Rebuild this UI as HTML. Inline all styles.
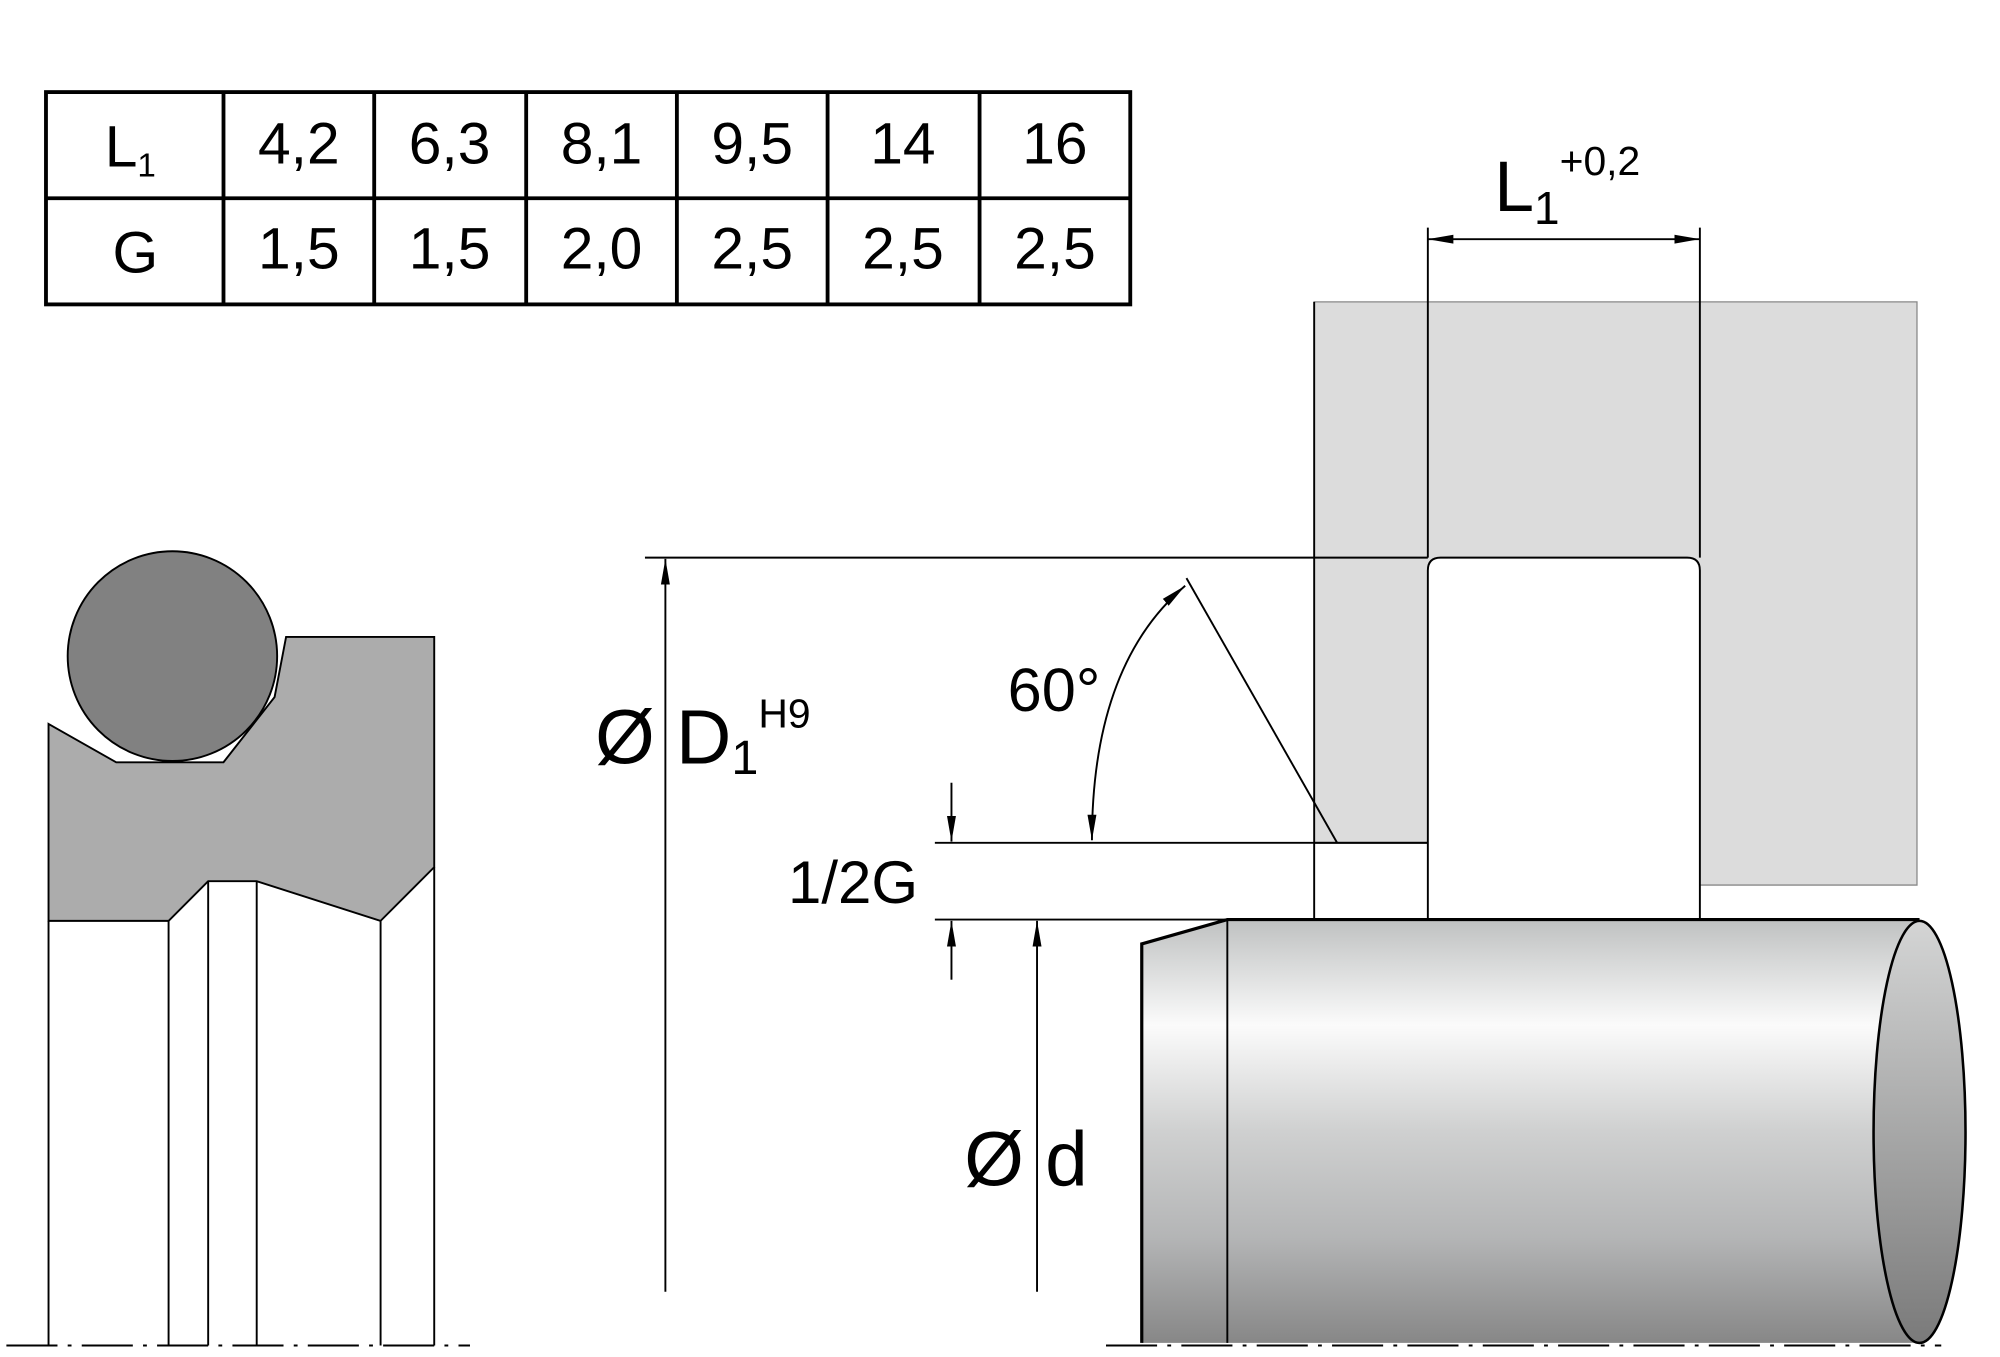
<!DOCTYPE html>
<html><head><meta charset="utf-8"><style>html,body{margin:0;padding:0;background:#fff}svg{display:block}</style></head>
<body>
<svg width="2000" height="1357" viewBox="0 0 1566 1061" preserveAspectRatio="none" xmlns="http://www.w3.org/2000/svg" font-family="Liberation Sans, sans-serif">
<defs>
<linearGradient id="sh" x1="0" y1="0" x2="0" y2="1">
<stop offset="0" stop-color="#bfc1c1"/><stop offset="0.25" stop-color="#fbfbfb"/><stop offset="0.5" stop-color="#cfd0d0"/><stop offset="0.75" stop-color="#b4b5b6"/><stop offset="1" stop-color="#878787"/></linearGradient>
<linearGradient id="el" x1="0" y1="0" x2="0" y2="1"><stop offset="0" stop-color="#d4d5d5"/><stop offset="1" stop-color="#7a7a7a"/></linearGradient>
<marker id="b" viewBox="0 0 20 10" refX="20" refY="5" markerWidth="20" markerHeight="10" orient="auto-start-reverse" markerUnits="userSpaceOnUse"><path d="M0,1.5 L20,5 L0,8.5 Z" fill="#000"/></marker>
</defs>
<g stroke="#000" fill="none">
<rect x="36" y="72" width="849" height="166" stroke-width="3"/>
<line x1="36" y1="155" x2="885" y2="155" stroke-width="3"/>
<line x1="175" y1="72" x2="175" y2="238" stroke-width="3"/>
<line x1="293" y1="72" x2="293" y2="238" stroke-width="3"/>
<line x1="412" y1="72" x2="412" y2="238" stroke-width="3"/>
<line x1="530" y1="72" x2="530" y2="238" stroke-width="3"/>
<line x1="648" y1="72" x2="648" y2="238" stroke-width="3"/>
<line x1="767" y1="72" x2="767" y2="238" stroke-width="3"/>
</g>
<g font-size="46" text-anchor="middle" fill="#000">
<text x="102" y="130">L<tspan font-size="26" dy="8">1</tspan></text>
<text x="234" y="128">4,2</text><text x="352" y="128">6,3</text><text x="471" y="128">8,1</text><text x="589" y="128">9,5</text><text x="707" y="128">14</text><text x="826" y="128">16</text>
<text x="106" y="213">G</text>
<text x="234" y="210">1,5</text><text x="352" y="210">1,5</text><text x="471" y="210">2,0</text><text x="589" y="210">2,5</text><text x="707" y="210">2,5</text><text x="826" y="210">2,5</text>
</g>
<path d="M1029,236 H1501 V692 H1331 V446 Q1331,436 1321,436 H1128 Q1118,436 1118,446 V659 H1029 Z" fill="#dcdcdc" stroke="#888" stroke-width="1"/>
<path d="M1331,446 Q1331,436 1321,436 H1128 Q1118,436 1118,446 V719 M1331,446 V719" fill="none" stroke="#000" stroke-width="1.5"/>
<path d="M1029,236 V719 M1029,659 H1118" fill="none" stroke="#000" stroke-width="1.5"/>
<line x1="1118" y1="178" x2="1118" y2="436" stroke="#000" stroke-width="1.5"/>
<line x1="1331" y1="178" x2="1331" y2="436" stroke="#000" stroke-width="1.5"/>
<line x1="1118" y1="187" x2="1331" y2="187" stroke="#000" stroke-width="1.5" marker-start="url(#b)" marker-end="url(#b)"/>
<text x="1170" y="165" font-size="56">L<tspan font-size="36" dy="10">1</tspan><tspan font-size="32" dy="-38">+0,2</tspan></text>
<path d="M894,1050 V738 L961,719 H1503 A36,165 0 0 1 1503,1050 Z" fill="url(#sh)"/>
<ellipse cx="1503" cy="885" rx="36" ry="165" fill="url(#el)" stroke="#000" stroke-width="2"/>
<path d="M894,1050 V738 L961,719 H1503" fill="none" stroke="#000" stroke-width="2.5"/>
<line x1="961" y1="719" x2="961" y2="1050" stroke="#000" stroke-width="1.5"/>
<line x1="866" y1="1052" x2="1520" y2="1052" stroke="#000" stroke-width="1.5" stroke-dasharray="40,8,3,8"/>
<line x1="505" y1="436" x2="1118" y2="436" stroke="#000" stroke-width="1.5"/>
<line x1="521" y1="1010" x2="521" y2="437" stroke="#000" stroke-width="1.5" marker-end="url(#b)"/>
<text x="466" y="597" font-size="60">Ø D<tspan font-size="38" dy="8">1</tspan><tspan font-size="32" dy="-36">H9</tspan></text>
<line x1="732" y1="659" x2="1118" y2="659" stroke="#000" stroke-width="1.5"/>
<line x1="732" y1="719" x2="961" y2="719" stroke="#000" stroke-width="1.5"/>
<line x1="929" y1="452" x2="1047" y2="659" stroke="#000" stroke-width="1.5"/>
<line x1="745" y1="612" x2="745" y2="658" stroke="#000" stroke-width="1.5" marker-end="url(#b)"/>
<line x1="745" y1="766" x2="745" y2="720" stroke="#000" stroke-width="1.5" marker-end="url(#b)"/>
<text x="617" y="706" font-size="47">1/2G</text>
<path d="M855,657 Q855,520 928,458" fill="none" stroke="#000" stroke-width="1.5" marker-start="url(#b)" marker-end="url(#b)"/>
<text x="789" y="556" font-size="48">60°</text>
<line x1="812" y1="1010" x2="812" y2="720" stroke="#000" stroke-width="1.5" marker-end="url(#b)"/>
<text x="755" y="927" font-size="60">Ø d</text>
<path d="M38,566 L91,596 L175,596 L215,545 L224,498 H340 V678 L298,720 L201,689 H163 L132,720 H38 Z" fill="#acacac" stroke="#000" stroke-width="1.5"/>
<circle cx="135" cy="513" r="82" fill="#818181" stroke="#000" stroke-width="1.5"/>
<g stroke="#000" stroke-width="1.5">
<line x1="38" y1="720" x2="38" y2="1052"/><line x1="132" y1="720" x2="132" y2="1052"/>
<line x1="163" y1="689" x2="163" y2="1052"/><line x1="201" y1="689" x2="201" y2="1052"/>
<line x1="298" y1="720" x2="298" y2="1052"/><line x1="340" y1="678" x2="340" y2="1052"/>
<line x1="5" y1="1052" x2="368" y2="1052" stroke-dasharray="40,8,3,8"/>
</g>
</svg>
</body></html>
